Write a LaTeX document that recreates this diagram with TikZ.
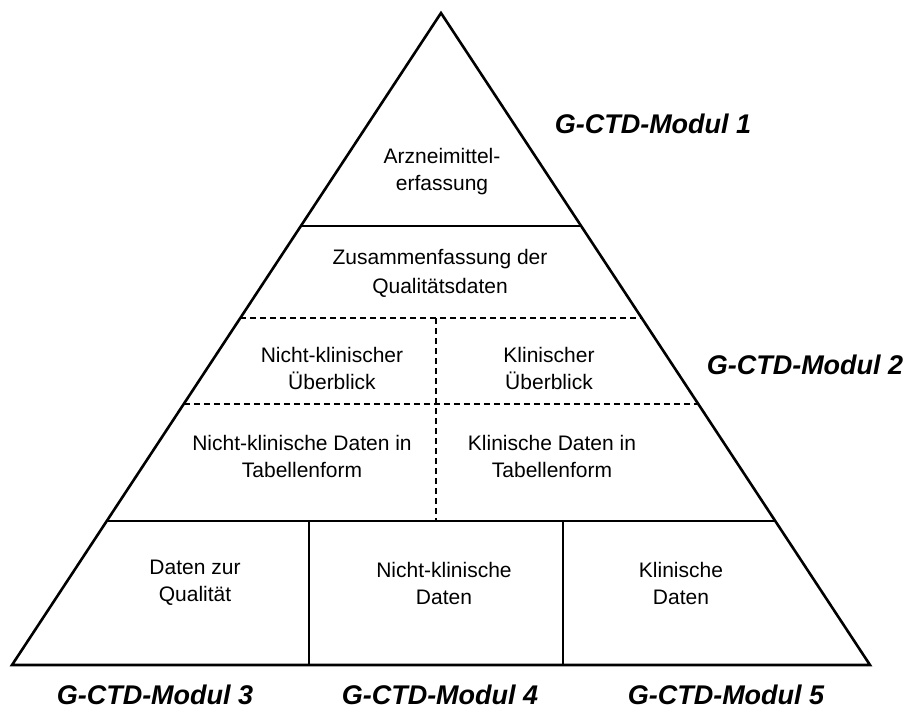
\documentclass[tikz,border=0pt]{standalone}
\usepackage{fontspec}
\setmainfont{Liberation Sans}
\usetikzlibrary{calc}
\begin{document}
\begin{tikzpicture}[x=1pt,y=-1pt]
\tikzstyle{every node}+=[inner sep=0pt]
\tikzstyle{box}=[align=center,font=\fontsize{21}{27}\selectfont]
\tikzstyle{modul}=[font=\fontsize{27}{30}\selectfont\bfseries\itshape]
\tikzstyle{solid line}=[black,line width=2.6pt]
\tikzstyle{dash line}=[black,line width=1.1pt,dash pattern=on 6pt off 4pt]
\useasboundingbox (0,0) rectangle (909,715);
% corners of the pyramid
\coordinate (apex) at (441,13);
\coordinate (bl) at (12,665);
\coordinate (br) at (870,665);
% layer borders on the sides
\coordinate (l1) at ($(apex)!0.3267!(bl)$);
\coordinate (r1) at ($(apex)!0.3267!(br)$);
\coordinate (l2) at ($(apex)!0.4678!(bl)$);
\coordinate (r2) at ($(apex)!0.4678!(br)$);
\coordinate (l3) at ($(apex)!0.5997!(bl)$);
\coordinate (r3) at ($(apex)!0.5997!(br)$);
\coordinate (l4) at ($(apex)!0.7791!(bl)$);
\coordinate (r4) at ($(apex)!0.7791!(br)$);
\coordinate (mt) at (436,318);
\coordinate (mb) at (436,521);
\coordinate (s1t) at (309,521);
\coordinate (s1b) at (309,665);
\coordinate (s2t) at (563,521);
\coordinate (s2b) at (563,665);
% lines
\draw [dash line] (l2) -- (r2);
\draw [dash line] (l3) -- (r3);
\draw [dash line] (mt) -- (mb);
\draw [solid line] (l1) -- (r1);
\draw [solid line] (l4) -- (r4);
\draw [solid line] (s1t) -- (s1b);
\draw [solid line] (s2t) -- (s2b);
\draw [solid line,line join=miter] (apex) -- (br) -- (bl) -- cycle;
% texts
\node [box] (arz) at (442,172) {Arzneimittel-\\erfassung};
\node [box,font=\fontsize{21}{29}\selectfont] (zus) at (440,273) {Zusammenfassung der\\Qualitätsdaten};
\node [box] (nkue) at (332,368) {Nicht-klinischer\\Überblick};
\node [box] (kue) at (549,368) {Klinischer\\Überblick};
\node [box] (nkdt) at (302,456) {Nicht-klinische Daten in\\Tabellenform};
\node [box] (kdt) at (552,456) {Klinische Daten in\\Tabellenform};
\node [box] (dzq) at (195,583) {Daten zur\\Qualität};
\node [box] (nkd) at (444,583) {Nicht-klinische\\Daten};
\node [box] (kd) at (681,583) {Klinische\\Daten};
\node [modul] (m1) at (653,124) {G-CTD-Modul 1};
\node [modul] (m2) at (805,365) {G-CTD-Modul 2};
\node [modul] (m3) at (155,695) {G-CTD-Modul 3};
\node [modul] (m4) at (440,695) {G-CTD-Modul 4};
\node [modul] (m5) at (726,695) {G-CTD-Modul 5};
\end{tikzpicture}
\end{document}
